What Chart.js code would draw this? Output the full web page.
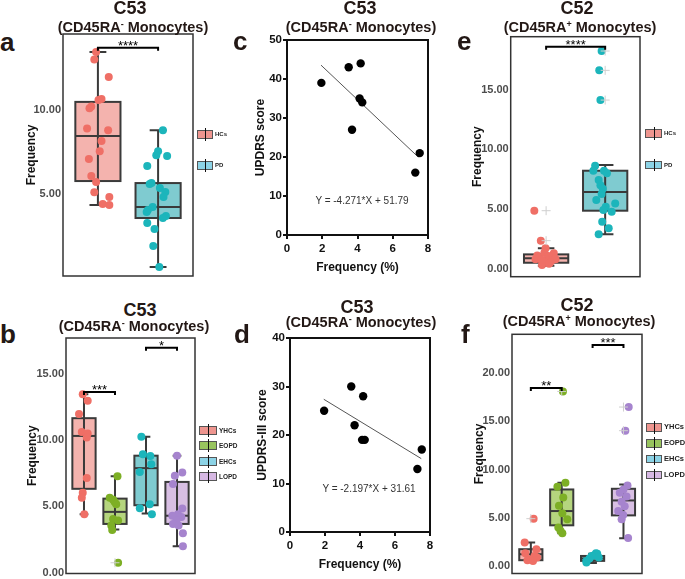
<!DOCTYPE html>
<html>
<head>
<meta charset="utf-8">
<script src="https://cdn.jsdelivr.net/npm/chart.js@4.4.1/dist/chart.umd.min.js"></script>
<style>
html,body{margin:0;padding:0;background:#fff;overflow:hidden;}
body{width:685px;height:579px;position:relative;font-family:"Liberation Sans",Arial,sans-serif;}
canvas{position:absolute;}
.t1,.t2,.lt,.eq{position:absolute;font-weight:bold;color:#231815;white-space:nowrap;text-align:center;}
.t1{font-size:18px;line-height:18px;width:100px;}
.t2{font-size:14.5px;line-height:14px;width:180px;}
.t2 sup{font-size:9px;line-height:0;vertical-align:5px;}
.lt{font-size:26px;line-height:26px;text-align:left;}
.eq{font-weight:normal;font-size:10px;line-height:12px;width:140px;color:#333;}
.k{position:absolute;border:1px solid #555;box-sizing:border-box;}
.k:after{content:"";position:absolute;left:50%;top:-3px;bottom:-3px;border-left:1px solid #111;}
.n{position:absolute;font-weight:bold;white-space:nowrap;color:#222;}
</style>
</head>
<body>
<canvas id="pa" width="180" height="276" style="left:20px;top:14px"></canvas>
<canvas id="pb" width="180" height="259" style="left:21px;top:320px"></canvas>
<canvas id="pc" width="191" height="265" style="left:249px;top:25px"></canvas>
<canvas id="pd" width="189" height="259" style="left:251px;top:320px"></canvas>
<canvas id="pe" width="180" height="270" style="left:466px;top:20px"></canvas>
<canvas id="pf" width="180" height="261" style="left:468px;top:318px"></canvas>

<div class="t1" style="left:80px;top:-1px">C53</div>
<div class="t2" style="left:43px;top:20px">(CD45RA<sup>-</sup> Monocytes)</div>
<div class="t1" style="left:310px;top:-1px">C53</div>
<div class="t2" style="left:271px;top:20px">(CD45RA<sup>-</sup> Monocytes)</div>
<div class="t1" style="left:527px;top:-1px">C52</div>
<div class="t2" style="left:490px;top:20px">(CD45RA<sup>+</sup> Monocytes)</div>
<div class="t1" style="left:90px;top:301px">C53</div>
<div class="t2" style="left:44px;top:319px">(CD45RA<sup>-</sup> Monocytes)</div>
<div class="t1" style="left:307px;top:298px">C53</div>
<div class="t2" style="left:271px;top:315px">(CD45RA<sup>-</sup> Monocytes)</div>
<div class="t1" style="left:527px;top:296px">C52</div>
<div class="t2" style="left:489px;top:314px">(CD45RA<sup>+</sup> Monocytes)</div>

<div class="lt" style="left:0px;top:29px">a</div>
<div class="lt" style="left:233px;top:28px">c</div>
<div class="lt" style="left:457px;top:28px">e</div>
<div class="lt" style="left:0px;top:321px">b</div>
<div class="lt" style="left:234px;top:321px">d</div>
<div class="lt" style="left:461px;top:321px">f</div>

<div class="eq" style="left:292px;top:195px">Y = -4.271*X + 51.79</div>
<div class="eq" style="left:299px;top:483px">Y = -2.197*X + 31.61</div>

<script>
// ---------- data ----------
const twoGroups = ["HCs", "PD"];
const fourGroups = ["YHCs", "EOPD", "EHCs", "LOPD"];

// a : C53, HCs vs PD
const aHCs = [13.45, 13.0, 11.96, 10.65, 10.6, 10.2, 10.1, 8.9, 8.8, 8.15, 7.55, 7.08, 6.07, 5.71, 5.1, 4.82, 4.4, 4.35];
const aHCsJit = [-0.03, -0.06, 0.18, 0.06, 0.01, -0.11, -0.14, -0.18, 0.17, 0.06, 0.03, -0.15, -0.11, -0.03, -0.06, 0.19, 0.08, 0.19];
const aPD = [8.8, 7.55, 7.3, 7.26, 6.67, 5.65, 5.6, 5.35, 5.12, 4.82, 4.23, 4.05, 3.93, 3.69, 3.57, 3.27, 2.92, 1.9, 0.65];
const aPDJit = [0.08, 0, -0.03, 0.15, -0.18, -0.11, -0.14, 0.03, 0.12, 0.09, -0.09, -0.17, -0.19, 0.13, 0.08, -0.18, -0.06, -0.08, 0.02];
const aQ1 = [5.77, 3.57], aMed = [8.45, 4.23], aQ3 = [10.48, 5.65], aLo = [4.35, 0.65], aHi = [13.45, 8.8];

// b : C53, four groups
const bYHCs = [13.46, 12.96, 11.97, 10.61, 10.5, 10.2, 7.14, 6.02, 5.65, 4.41];
const bYHCsJit = [-0.04, 0.12, -0.16, -0.07, 0.12, 0.09, 0.09, -0.04, -0.07, 0.01];
const bEOPD = [7.26, 5.65, 5.5, 5.33, 5.15, 4.04, 3.92, 3.55, 3.22, 0.74];
const bEOPDJit = [0.08, -0.17, -0.06, -0.01, 0.04, -0.06, 0.1, -0.12, -0.09, 0.1];
const bEHCs = [10.24, 8.92, 8.8, 8.18, 7.58, 5.15, 4.86, 4.41];
const bEHCsJit = [-0.15, -0.1, 0.14, 0.17, -0.2, 0.12, -0.2, 0.19];
const bLOPD = [8.82, 7.56, 7.31, 6.69, 4.83, 4.4, 4.29, 4.2, 3.92, 3.67, 3.55, 2.97, 1.98];
const bLOPDJit = [0, 0.17, -0.07, -0.13, 0.17, 0.03, -0.15, 0.14, -0.02, -0.13, 0.05, 0.19, 0.19];
const bQ1 = [6.32, 3.67, 5.08, 3.67], bMed = [10.31, 4.58, 7.88, 4.29], bQ3 = [11.65, 5.58, 8.82, 6.84];
const bLo = [4.41, 3.25, 4.46, 1.98], bHi = [13.46, 7.26, 10.24, 8.82];
const bOutX = [2], bOutY = [0.74];

// c / d : correlation with frequency
const freqX = [1.95, 3.5, 4.18, 3.69, 4.12, 4.27, 7.53, 7.28];
const updrs = [39, 43, 44, 27, 35, 34, 21, 16];
const updrs3 = [25, 30, 28, 22, 19, 19, 17, 13];
const cFitX = [1.93, 7.45], cFitY = [43.55, 19.97];
const dFitX = [1.93, 7.5], dFitY = [27.37, 15.13];

// e : C52, HCs vs PD
const eHCs = [4.86, 2.35, 1.71, 1.34, 1.29, 1.1, 1.06, 0.87, 0.8, 0.75, 0.7, 0.8, 0.65, 0.55, 0.42, 0.31, 0.75];
const eHCsJit = [-0.2, -0.09, -0.01, -0.03, 0.13, -0.15, 0.04, -0.13, -0.18, 0.01, 0.1, 0.16, -0.04, 0.07, 0.05, -0.07, -0.08];
const ePD = [18.24, 16.62, 14.13, 8.63, 8.21, 8.2, 7.99, 7.43, 7.0, 6.7, 6.26, 5.75, 5.47, 5.2, 4.92, 4.78, 3.94, 3.38, 2.88];
const ePDJit = [-0.06, -0.1, -0.08, -0.17, -0.2, -0.02, 0.03, -0.11, -0.08, -0.04, -0.06, -0.15, 0.17, 0.01, -0.03, 0.11, -0.05, 0.06, -0.11];
const eQ1 = [0.5, 4.86], eMed = [0.87, 6.42], eQ3 = [1.2, 8.21], eLo = [0.25, 2.88], eHi = [1.71, 8.69];
const eOutX = [1, 1, 2, 2, 2], eOutY = [4.86, 2.35, 18.24, 16.62, 14.13];

// f : C52, four groups
const fYHCs = [4.9, 2.42, 1.73, 1.31, 1.03, 0.86, 0.69, 0.59, 0.52];
const fYHCsJit = [0.09, -0.2, 0.18, -0.18, 0.12, 0.2, -0.04, -0.11, 0.07];
const fEOPD = [18.1, 8.62, 8.21, 7.1, 6.24, 5.47, 4.85, 3.98, 3.64, 3.38];
const fEOPDJit = [0.04, 0.12, -0.14, 0.05, -0.09, 0.02, 0.18, -0.11, -0.04, 0.02];
const fEHCs = [1.31, 1.25, 1.1, 1.03, 0.86, 0.76, 0.52, 0.35];
const fEHCsJit = [0.11, 0.15, 0.05, -0.03, 0.2, -0.1, -0.2, -0.2];
const fLOPD = [16.48, 14.03, 8.35, 7.93, 7.59, 7.2, 6.66, 6.2, 5.69, 5.27, 4.83, 2.9];
const fLOPDJit = [0.17, 0.06, 0.13, 0, -0.12, 0.1, -0.06, 0.04, -0.17, -0.01, -0.06, 0.15];
const fQ1 = [0.59, 4.21, 0.52, 5.24], fMed = [1.21, 5.69, 0.77, 6.79], fQ3 = [1.73, 7.93, 1.03, 8.0];
const fLo = [0.45, 3.38, 0.3, 2.86], fHi = [2.42, 8.62, 1.25, 8.45];
const fOutX = [1, 2, 4, 4], fOutY = [4.9, 18.1, 16.48, 14.03];

// significance brackets
const aSig = [{x1: 1, x2: 2, y: 13.7, label: "****"}];
const bSig = [{x1: 1, x2: 2, y: 13.63, label: "***"}, {x1: 3, x2: 4, y: 16.97, label: "*"}];
const eSig = [{x1: 1, x2: 2, y: 18.6, label: "****"}];
const fSig = [{x1: 1, x2: 2, y: 18.45, label: "**"}, {x1: 3, x2: 4, y: 22.93, label: "***"}];

// colours
const RED = "#EF6F66", GREEN = "#7DAF25", TEAL = "#1CB5BB", PURPLE = "#A684CE";
const RED_BOX = "#F4B3AE", GREEN_BOX = "#B5D57E", TEAL_BOX = "#7FCBD0", PURPLE_BOX = "#D8BFE3";
const RED_KEY = "#EE958F", GREEN_KEY = "#98C45E", BLUE_KEY = "#8CD3E6", PURPLE_KEY = "#D6B8E3";

// ---------- helpers ----------
const FONT = "'Liberation Sans', Arial, sans-serif";
Chart.defaults.font.family = FONT;

function boxPlugin(st, fills) {
  return {
    id: "boxes",
    beforeDatasetsDraw(chart) {
      const {ctx, scales: {x, y}} = chart;
      ctx.save();
      ctx.lineWidth = 2;
      ctx.strokeStyle = "#3a3a3a";
      st.q1.forEach((q1, i) => {
        const c = i + 1;
        const xl = x.getPixelForValue(c - 0.375), xr = x.getPixelForValue(c + 0.375);
        const xc = x.getPixelForValue(c);
        const cl = x.getPixelForValue(c - 0.14), cr = x.getPixelForValue(c + 0.14);
        const y1 = y.getPixelForValue(q1), y3 = y.getPixelForValue(st.q3[i]);
        const ym = y.getPixelForValue(st.med[i]);
        const ylo = y.getPixelForValue(st.lo[i]), yhi = y.getPixelForValue(st.hi[i]);
        ctx.fillStyle = fills[i];
        ctx.fillRect(xl, y3, xr - xl, y1 - y3);
        ctx.beginPath();
        ctx.moveTo(xc, yhi); ctx.lineTo(xc, ylo);
        ctx.moveTo(cl, yhi); ctx.lineTo(cr, yhi);
        ctx.moveTo(cl, ylo); ctx.lineTo(cr, ylo);
        ctx.stroke();
        ctx.strokeRect(xl, y3, xr - xl, y1 - y3);
        ctx.beginPath();
        ctx.moveTo(xl, ym); ctx.lineTo(xr, ym);
        ctx.stroke();
      });
      ctx.restore();
    }
  };
}

function bracketPlugin(list) {
  return {
    id: "brackets",
    afterDatasetsDraw(chart) {
      const {ctx, scales: {x, y}} = chart;
      ctx.save();
      ctx.strokeStyle = "#000";
      ctx.fillStyle = "#000";
      ctx.lineWidth = 2;
      ctx.font = "13px " + FONT;
      ctx.textAlign = "center";
      ctx.textBaseline = "alphabetic";
      list.forEach(b => {
        const x1 = x.getPixelForValue(b.x1), x2 = x.getPixelForValue(b.x2), py = y.getPixelForValue(b.y);
        ctx.beginPath();
        ctx.moveTo(x1, py + 3); ctx.lineTo(x1, py); ctx.lineTo(x2, py); ctx.lineTo(x2, py + 3);
        ctx.stroke();
        ctx.fillText(b.label, (x1 + x2) / 2, py + 2);
      });
      ctx.restore();
    }
  };
}

function framePlugin(color, w) {
  return {
    id: "frame",
    afterDraw(chart) {
      const {ctx, chartArea: a} = chart;
      ctx.save();
      ctx.strokeStyle = color;
      ctx.lineWidth = w;
      ctx.strokeRect(a.left, a.top, a.right - a.left, a.bottom - a.top);
      ctx.restore();
    }
  };
}

function pts(vals, jit, idx) {
  return vals.map((v, j) => ({x: idx + jit[j], y: v}));
}

function boxChart(id, o) {
  const ds = [{
    data: o.outX.map((v, i) => ({x: v, y: o.outY[i]})),
    pointStyle: "cross", pointRadius: 4.5, borderColor: "#cfcfcf", borderWidth: 1
  }];
  o.groups.forEach((g, i) => ds.push({
    data: pts(g.vals, g.jit, i + 1),
    pointRadius: 4, borderWidth: 0, backgroundColor: g.color, borderColor: g.color
  }));
  new Chart(document.getElementById(id), {
    type: "scatter",
    data: {datasets: ds},
    options: {
      responsive: false, animation: false, events: [],
      layout: {padding: o.pad},
      plugins: {legend: {display: false}, tooltip: {enabled: false}},
      scales: {
        x: {type: "linear", display: false, min: o.xMin, max: o.xMax},
        y: {
          min: o.yMin, max: o.yMax,
          afterBuildTicks: s => { s.ticks = o.yTicks.map(v => ({value: v})); },
          afterFit: s => { s.width = o.yWidth; s.paddingTop = 0; s.paddingBottom = 0; },
          grid: {display: false, drawTicks: false},
          border: {display: false},
          ticks: {padding: 2, color: "#4d4d4d", font: {size: 11, weight: "bold"}, callback: v => Number(v).toFixed(2)},
          title: {display: true, text: "Frequency", color: "#111", font: {size: 12, weight: "bold"}, padding: {top: 4, bottom: 0}}
        }
      }
    },
    plugins: [boxPlugin(o.stats, o.fills), bracketPlugin(o.sig), framePlugin("#333", 1.5)]
  });
}

function corrChart(id, o) {
  new Chart(document.getElementById(id), {
    type: "scatter",
    data: {datasets: [
      {data: o.x.map((v, i) => ({x: v, y: o.y[i]})), pointRadius: 4.2, borderWidth: 0, backgroundColor: "#000"},
      {data: o.fitX.map((v, i) => ({x: v, y: o.fitY[i]})), showLine: true, pointRadius: 0, borderColor: "#555", borderWidth: 1}
    ]},
    options: {
      responsive: false, animation: false, events: [],
      layout: {padding: o.pad},
      plugins: {legend: {display: false}, tooltip: {enabled: false}},
      scales: {
        x: {
          type: "linear", min: 0, max: 8,
          afterFit: s => { s.height = o.xHeight; s.paddingLeft = 0; s.paddingRight = 0; },
          grid: {drawOnChartArea: false, drawTicks: true, tickLength: 4, color: "#111", lineWidth: 2},
          border: {color: "#111", width: 2},
          ticks: {stepSize: 2, padding: 3, color: "#111", font: {size: 11.5, weight: "bold"}},
          title: {display: true, text: "Frequency (%)", color: "#111", font: {size: 12, weight: "bold"}, padding: {top: 4, bottom: o.xTitlePad}}
        },
        y: {
          min: 0, max: o.yMax,
          afterFit: s => { s.width = o.yWidth; s.paddingTop = 0; s.paddingBottom = 0; },
          grid: {drawOnChartArea: false, drawTicks: true, tickLength: 4, color: "#111", lineWidth: 2},
          border: {color: "#111", width: 2},
          ticks: {stepSize: 10, padding: 1, color: "#111", font: {size: 11.5, weight: "bold"}},
          title: {display: true, text: o.yTitle, color: "#111", font: {size: 12, weight: "bold"}, padding: {top: 4, bottom: 0}}
        }
      }
    },
    plugins: [framePlugin("#111", 2)]
  });
}

function addLegend(x, top, gap, w, h, fs, names, fills) {
  names.forEach((n, i) => {
    const k = document.createElement("div");
    k.className = "k";
    k.style.cssText = `left:${x}px;top:${top + i * gap}px;width:${w}px;height:${h}px;background:${fills[i]}`;
    document.body.appendChild(k);
    const t = document.createElement("div");
    t.className = "n";
    t.textContent = n;
    t.style.cssText = `left:${x + w + 2}px;top:${top + i * gap}px;line-height:${h}px;font-size:${fs}px`;
    document.body.appendChild(t);
  });
}

// ---------- panels ----------
boxChart("pa", {
  xMin: 0.42, xMax: 2.58, yMin: 0.12, yMax: 14.52, yTicks: [5, 10], yWidth: 43,
  pad: {left: 0, top: 20, right: 7, bottom: 14},
  stats: {q1: aQ1, med: aMed, q3: aQ3, lo: aLo, hi: aHi}, fills: [RED_BOX, TEAL_BOX],
  groups: [{vals: aHCs, jit: aHCsJit, color: RED}, {vals: aPD, jit: aPDJit, color: TEAL}],
  outX: [], outY: [], sig: aSig
});

boxChart("pb", {
  xMin: 0.42, xMax: 4.58, yMin: -0.07, yMax: 17.7, yTicks: [0, 5, 10, 15], yWidth: 45,
  pad: {left: 0, top: 18, right: 6, bottom: 2},
  stats: {q1: bQ1, med: bMed, q3: bQ3, lo: bLo, hi: bHi}, fills: [RED_BOX, GREEN_BOX, TEAL_BOX, PURPLE_BOX],
  groups: [
    {vals: bYHCs, jit: bYHCsJit, color: RED}, {vals: bEOPD, jit: bEOPDJit, color: GREEN},
    {vals: bEHCs, jit: bEHCsJit, color: TEAL}, {vals: bLOPD, jit: bLOPDJit, color: PURPLE}
  ],
  outX: bOutX, outY: bOutY, sig: bSig
});

boxChart("pe", {
  xMin: 0.4, xMax: 2.59, yMin: -0.67, yMax: 19.44, yTicks: [0, 5, 10, 15], yWidth: 44.7,
  pad: {left: 0, top: 16.7, right: 6, bottom: 13.3},
  stats: {q1: eQ1, med: eMed, q3: eQ3, lo: eLo, hi: eHi}, fills: [RED_BOX, TEAL_BOX],
  groups: [{vals: eHCs, jit: eHCsJit, color: RED}, {vals: ePD, jit: ePDJit, color: TEAL}],
  outX: eOutX, outY: eOutY, sig: eSig
});

boxChart("pf", {
  xMin: 0.39, xMax: 4.6, yMin: -0.79, yMax: 24.03, yTicks: [0, 5, 10, 15, 20], yWidth: 44,
  pad: {left: 0, top: 16.3, right: 6, bottom: 4.7},
  stats: {q1: fQ1, med: fMed, q3: fQ3, lo: fLo, hi: fHi}, fills: [RED_BOX, GREEN_BOX, TEAL_BOX, PURPLE_BOX],
  groups: [
    {vals: fYHCs, jit: fYHCsJit, color: RED}, {vals: fEOPD, jit: fEOPDJit, color: GREEN},
    {vals: fEHCs, jit: fEHCsJit, color: TEAL}, {vals: fLOPD, jit: fLOPDJit, color: PURPLE}
  ],
  outX: fOutX, outY: fOutY, sig: fSig
});

corrChart("pc", {
  x: freqX, y: updrs, fitX: cFitX, fitY: cFitY, yMax: 50, yTitle: "UPDRS score",
  yWidth: 38, xHeight: 55, xTitlePad: 14.8, pad: {left: 0, top: 15, right: 12, bottom: 0}
});

corrChart("pd", {
  x: freqX, y: updrs3, fitX: dFitX, fitY: dFitY, yMax: 40, yTitle: "UPDRS-III score",
  yWidth: 39, xHeight: 47, xTitlePad: 6.8, pad: {left: 0, top: 18, right: 10, bottom: 0}
});

addLegend(197, 129.5, 31.4, 16, 9, 6, twoGroups, [RED_KEY, BLUE_KEY]);
addLegend(645, 129, 31.8, 17, 8.5, 6, twoGroups, [RED_KEY, BLUE_KEY]);
addLegend(199, 426, 15.3, 18, 9, 6.5, fourGroups, [RED_KEY, GREEN_KEY, BLUE_KEY, PURPLE_KEY]);
addLegend(646, 423.3, 15.8, 16, 8.5, 7.5, fourGroups, [RED_KEY, GREEN_KEY, BLUE_KEY, PURPLE_KEY]);
</script>
</body>
</html>
